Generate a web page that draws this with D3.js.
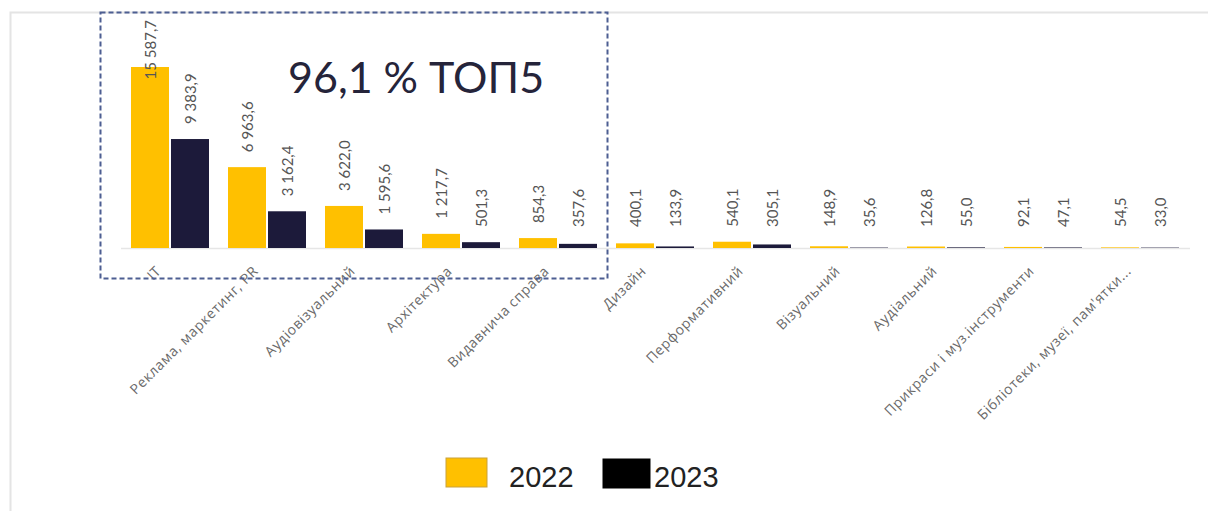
<!DOCTYPE html>
<html>
<head>
<meta charset="utf-8">
<script src="https://cdn.jsdelivr.net/npm/d3@7"></script>
<style>
  html, body { margin: 0; padding: 0; background: #fff; }
  svg { display: block; }
</style>
</head>
<body>
<svg id="chart" width="1208" height="511"></svg>
<script>
// Categories of creative industries and their values by year
const categories = [
  "IT",
  "Реклама, маркетинг, PR",
  "Аудіовізуальний",
  "Архітектура",
  "Видавнича справа",
  "Дизайн",
  "Перформативний",
  "Візуальний",
  "Аудіальний",
  "Прикраси і муз.інструменти",
  "Бібліотеки, музеї, пам'ятки..."
];
const years = ["2022", "2023"];
const values2022 = [15587.7, 6963.6, 3622.0, 1217.7, 854.3, 400.1, 540.1, 148.9, 126.8, 92.1, 54.5];
const values2023 = [9383.9, 3162.4, 1595.6, 501.3, 357.6, 133.9, 305.1, 35.6, 55.0, 47.1, 33.0];
const titleText = "96,1 % ТОП5";

const colors = { "2022": "#FFC000", "2023": "#1C1A3A" };
const legendColors = { "2022": "#FFC000", "2023": "#000000" };

const svg = d3.select("#chart");

// Light frame around the visual
svg.append("path")
  .attr("d", "M10.5,511 L10.5,12.5 L1208,12.5")
  .attr("fill", "none")
  .attr("stroke", "#e4e4e4")
  .attr("stroke-width", 2);

const baseY = 248;
const x = d3.scaleBand().domain(categories).range([121.5, 1188.5]).padding(0);
const xs = d3.scaleBand().domain(years).range([0, x.bandwidth()])
  .paddingInner(0.05).paddingOuter(0.2375);
const y = d3.scaleLinear().domain([0, 15587.7]).range([baseY, 67]);

const rows = categories.map((c, i) => ({ cat: c, vals: [
  { year: "2022", value: values2022[i] },
  { year: "2023", value: values2023[i] }
]}));

// Baseline
svg.append("line")
  .attr("x1", 121).attr("x2", 1190)
  .attr("y1", baseY + 0.5).attr("y2", baseY + 0.5)
  .attr("stroke", "#e6e6e6").attr("stroke-width", 1.5);

const groups = svg.append("g").selectAll("g")
  .data(rows).join("g")
  .attr("transform", d => `translate(${x(d.cat)},0)`);

groups.selectAll("rect")
  .data(d => d.vals).join("rect")
  .attr("x", d => xs(d.year))
  .attr("width", xs.bandwidth())
  .attr("y", d => y(d.value))
  .attr("height", d => baseY - y(d.value))
  .attr("fill", d => colors[d.year]);

const fmt = v => {
  const s = d3.format(",.1f")(v);
  return s.replace(/,/g, " ").replace(".", ",");
};

// Value labels, rotated, above each bar
groups.selectAll("text.val")
  .data(d => d.vals).join("text")
  .attr("class", "val")
  .attr("font-family", "Lato, 'Open Sans', sans-serif")
  .attr("font-size", 15)
  .attr("fill", "#555")
  .attr("dominant-baseline", "central")
  .attr("text-anchor", "start")
  .text(d => fmt(d.value))
  .each(function(d) {
    const len = this.getComputedTextLength();
    let pos = Math.min(y(d.value) - 15, 227);
    pos = Math.max(pos, 20 + len);
    const cx = xs(d.year) + xs.bandwidth() / 2;
    d3.select(this).attr("transform", `translate(${cx},${pos}) rotate(-90)`);
  });

// Category axis with rotated labels
const axis = svg.append("g")
  .attr("transform", `translate(0,${baseY})`)
  .call(d3.axisBottom(x).tickSize(0).tickPadding(0));
axis.select(".domain").remove();
axis.selectAll("text")
  .attr("font-family", "'Open Sans', 'Noto Sans', sans-serif")
  .attr("font-size", 14)
  .attr("letter-spacing", 0.6)
  .attr("fill", "#6a6a6a")
  .attr("text-anchor", "end")
  .attr("dy", null)
  .attr("y", 0)
  .attr("transform", "translate(-8,24) rotate(-45)");

// Dashed highlight box around the top five categories
svg.append("rect")
  .attr("x", 100.5).attr("y", 12.5)
  .attr("width", 507).attr("height", 266)
  .attr("fill", "none")
  .attr("stroke", "#4d5e92")
  .attr("stroke-width", 2)
  .attr("stroke-dasharray", "5,3");

svg.append("text")
  .attr("x", 288).attr("y", 93)
  .attr("font-family", "Lato, 'Open Sans', sans-serif")
  .attr("font-size", 43)
  .attr("fill", "#25243a")
  .text(titleText);

// Legend
const legend = svg.append("g");
const legendItems = [
  { year: "2022", rx: 446, ry: 458, w: 41, h: 29, tx: 509 },
  { year: "2023", rx: 603, ry: 459, w: 47, h: 29, tx: 654 }
];
legendItems.forEach(it => {
  legend.append("rect")
    .attr("x", it.rx).attr("y", it.ry)
    .attr("width", it.w).attr("height", it.h)
    .attr("fill", legendColors[it.year])
    .attr("stroke", it.year === "2022" ? "#c9a13a" : "#000")
    .attr("stroke-width", 1);
  legend.append("text")
    .attr("x", it.tx).attr("y", 487)
    .attr("font-family", "'Liberation Sans', Arial, sans-serif")
    .attr("font-size", 29)
    .attr("fill", "#222")
    .text(it.year);
});
</script>
</body>
</html>
